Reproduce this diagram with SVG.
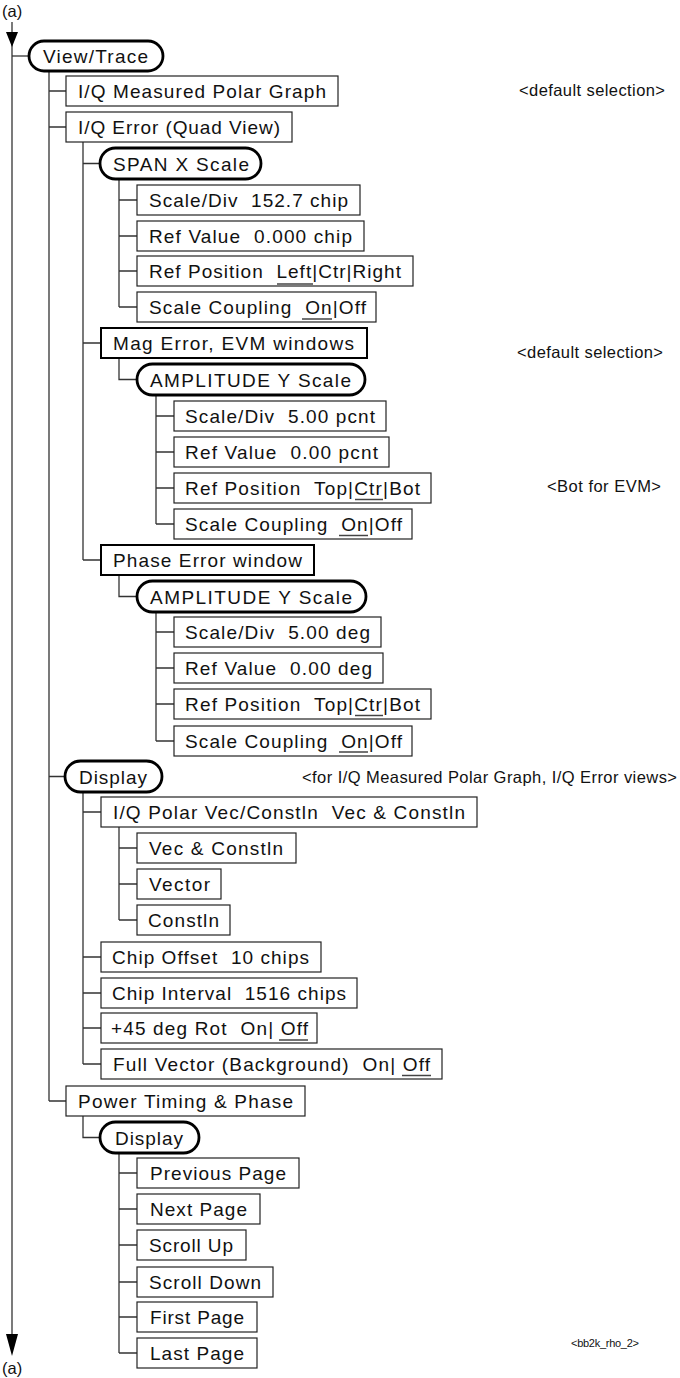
<svg xmlns="http://www.w3.org/2000/svg" width="680" height="1378" viewBox="0 0 680 1378">
<style>
.bg{fill:#fff}
.box{fill:#fff;stroke:#222;stroke-width:1.2}
.thick{stroke-width:2;stroke:#000}
.pill{fill:#fff;stroke:#000;stroke-width:2.8}
.lbl{font-family:"Liberation Sans",Arial,Helvetica,sans-serif;font-size:19px;fill:#111;white-space:pre}
.note{font-family:"Liberation Sans",Arial,Helvetica,sans-serif;font-size:16.5px;fill:#111;white-space:pre}
.small{font-size:11px}
.conn path{stroke:#333;stroke-width:1.3;fill:none}
.main{stroke:#000;stroke-width:1.5;fill:none}
.ul{stroke:#444;stroke-width:1.5}
</style>
<rect class="bg" x="0" y="0" width="680" height="1378"/>
<g id="connectors" class="conn">
<path class="main" d="M12,22 V1340"/>
<polygon points="6,32 18,32 12,47" fill="#000"/>
<polygon points="6,1334 18,1334 12,1356" fill="#000"/>
<path d="M12,56 H29"/>
<path d="M49,71 V1101 M49,91 H66 M49,127 H66 M49,776.5 H65 M49,1101 H66"/>
<path d="M83,142 V560 M83,163.5 H100 M83,343 H101 M83,560 H101"/>
<path d="M119,179 V307 M119,200 H137 M119,236 H137 M119,271 H137 M119,307 H137"/>
<path d="M119,358 V379.5 H137"/>
<path d="M156,395 V524 M156,416 H174 M156,452 H174 M156,488 H174 M156,524 H174"/>
<path d="M119,575 V596.5 H137"/>
<path d="M156,612 V741 M156,632 H174 M156,668 H174 M156,704 H174 M156,741 H174"/>
<path d="M83,792 V1064 M83,812 H101 M83,957 H101 M83,993 H101 M83,1028 H101 M83,1064 H101"/>
<path d="M119,827 V920 M119,848 H137 M119,884 H137 M119,920 H137"/>
<path d="M83,1116 V1137.5 H100"/>
<path d="M119,1153 V1353 M119,1173 H137 M119,1209 H137 M119,1245 H137 M119,1282 H137 M119,1317 H137 M119,1353 H137"/>
</g>
<text class="note" x="2" y="17">(a)</text>
<text class="note" x="2" y="1374">(a)</text>
<g id="n-viewtrace"><rect class="pill" x="29" y="41" width="134" height="30" rx="15"/><text class="lbl" x="43" y="63" textLength="105">View/Trace</text></g>
<g id="n-iqpolar"><rect class="box" x="66" y="76" width="272" height="30"/><text class="lbl" x="78" y="98" textLength="248">I/Q Measured Polar Graph</text></g>
<g id="n-iqerror"><rect class="box" x="66" y="112" width="226" height="30"/><text class="lbl" x="78" y="134" textLength="202">I/Q Error (Quad View)</text></g>
<g id="n-spanx"><rect class="pill" x="100" y="148" width="161" height="31" rx="15.5"/><text class="lbl" x="113" y="170.5" textLength="136">SPAN X Scale</text></g>
<g id="n-sd1"><rect class="box" x="137" y="185" width="223" height="30"/><text class="lbl" x="149" y="207" textLength="199">Scale/Div  152.7 chip</text></g>
<g id="n-rv1"><rect class="box" x="137" y="221" width="227" height="30"/><text class="lbl" x="149" y="243" textLength="203">Ref Value  0.000 chip</text></g>
<g id="n-rp1"><rect class="box" x="137" y="256" width="276" height="30"/><text class="lbl" x="149" y="278" textLength="252">Ref Position  Left|Ctr|Right</text><line class="ul" x1="277" y1="284" x2="313" y2="284"/></g>
<g id="n-sc1"><rect class="box" x="137" y="292" width="239" height="30"/><text class="lbl" x="149" y="314" textLength="217">Scale Coupling  On|Off</text><line class="ul" x1="302" y1="319" x2="332" y2="319"/></g>
<g id="n-mag"><rect class="box thick" x="101" y="328" width="266" height="30"/><text class="lbl" x="113" y="350" textLength="241">Mag Error, EVM windows</text></g>
<g id="n-amp1"><rect class="pill" x="137" y="364" width="228" height="31" rx="15.5"/><text class="lbl" x="150" y="386.5" textLength="201">AMPLITUDE Y Scale</text></g>
<g id="n-sd2"><rect class="box" x="174" y="401" width="212" height="30"/><text class="lbl" x="185" y="423" textLength="190">Scale/Div  5.00 pcnt</text></g>
<g id="n-rv2"><rect class="box" x="174" y="437" width="215" height="30"/><text class="lbl" x="185" y="459" textLength="193">Ref Value  0.00 pcnt</text></g>
<g id="n-rp2"><rect class="box" x="174" y="473" width="257" height="30"/><text class="lbl" x="185" y="495" textLength="235">Ref Position  Top|Ctr|Bot</text><line class="ul" x1="355" y1="499.5" x2="383" y2="499.5"/></g>
<g id="n-sc2"><rect class="box" x="174" y="509" width="238" height="30"/><text class="lbl" x="185" y="531" textLength="217">Scale Coupling  On|Off</text><line class="ul" x1="339" y1="535.5" x2="368" y2="535.5"/></g>
<g id="n-phase"><rect class="box thick" x="101" y="545" width="213" height="30"/><text class="lbl" x="113" y="567" textLength="189">Phase Error window</text></g>
<g id="n-amp2"><rect class="pill" x="137" y="581" width="229" height="31" rx="15.5"/><text class="lbl" x="150" y="603.5" textLength="202">AMPLITUDE Y Scale</text></g>
<g id="n-sd3"><rect class="box" x="174" y="617" width="207" height="30"/><text class="lbl" x="185" y="639" textLength="185">Scale/Div  5.00 deg</text></g>
<g id="n-rv3"><rect class="box" x="174" y="653" width="209" height="30"/><text class="lbl" x="185" y="675" textLength="187">Ref Value  0.00 deg</text></g>
<g id="n-rp3"><rect class="box" x="174" y="689" width="257" height="30"/><text class="lbl" x="185" y="711" textLength="235">Ref Position  Top|Ctr|Bot</text><line class="ul" x1="355" y1="715.5" x2="383" y2="715.5"/></g>
<g id="n-sc3"><rect class="box" x="174" y="726" width="238" height="30"/><text class="lbl" x="185" y="748" textLength="217">Scale Coupling  On|Off</text><line class="ul" x1="339" y1="752" x2="368" y2="752"/></g>
<g id="n-display"><rect class="pill" x="65" y="761" width="97" height="31" rx="15.5"/><text class="lbl" x="79" y="783.5" textLength="68">Display</text></g>
<g id="n-iqvec"><rect class="box" x="101" y="797" width="376" height="30"/><text class="lbl" x="113" y="819" textLength="352">I/Q Polar Vec/Constln  Vec &amp; Constln</text></g>
<g id="n-vecc"><rect class="box" x="137" y="833" width="159" height="30"/><text class="lbl" x="149" y="855" textLength="134">Vec &amp; Constln</text></g>
<g id="n-vector"><rect class="box" x="137" y="869" width="84" height="30"/><text class="lbl" x="149" y="891" textLength="61">Vector</text></g>
<g id="n-constln"><rect class="box" x="137" y="905" width="93" height="30"/><text class="lbl" x="148" y="927" textLength="71">Constln</text></g>
<g id="n-chipoff"><rect class="box" x="101" y="942" width="220" height="30"/><text class="lbl" x="112" y="964" textLength="197">Chip Offset  10 chips</text></g>
<g id="n-chipint"><rect class="box" x="101" y="978" width="256" height="30"/><text class="lbl" x="112" y="1000" textLength="234">Chip Interval  1516 chips</text></g>
<g id="n-rot"><rect class="box" x="101" y="1013" width="216" height="30"/><text class="lbl" x="111" y="1035" textLength="197">+45 deg Rot  On| Off</text><line class="ul" x1="279" y1="1040" x2="308" y2="1040"/></g>
<g id="n-fullvec"><rect class="box" x="101" y="1049" width="341" height="30"/><text class="lbl" x="113" y="1071" textLength="317">Full Vector (Background)  On| Off</text><line class="ul" x1="402" y1="1075.5" x2="431" y2="1075.5"/></g>
<g id="n-power"><rect class="box" x="66" y="1086" width="239" height="30"/><text class="lbl" x="78" y="1108" textLength="215">Power Timing &amp; Phase</text></g>
<g id="n-display2"><rect class="pill" x="100" y="1122" width="99" height="31" rx="15.5"/><text class="lbl" x="115" y="1144.5" textLength="68">Display</text></g>
<g id="n-prev"><rect class="box" x="137" y="1158" width="162" height="30"/><text class="lbl" x="150" y="1180" textLength="136">Previous Page</text></g>
<g id="n-next"><rect class="box" x="137" y="1194" width="123" height="30"/><text class="lbl" x="150" y="1216" textLength="97">Next Page</text></g>
<g id="n-sup"><rect class="box" x="137" y="1230" width="109" height="30"/><text class="lbl" x="149" y="1252" textLength="84">Scroll Up</text></g>
<g id="n-sdown"><rect class="box" x="137" y="1267" width="136" height="30"/><text class="lbl" x="149" y="1289" textLength="112">Scroll Down</text></g>
<g id="n-first"><rect class="box" x="137" y="1302" width="120" height="30"/><text class="lbl" x="150" y="1324" textLength="94">First Page</text></g>
<g id="n-last"><rect class="box" x="137" y="1338" width="120" height="30"/><text class="lbl" x="150" y="1360" textLength="94">Last Page</text></g>
<g id="notes">
<text class="note" x="519" y="96" textLength="146">&lt;default selection&gt;</text>
<text class="note" x="517" y="358" textLength="146">&lt;default selection&gt;</text>
<text class="note" x="547" y="492" textLength="114">&lt;Bot for EVM&gt;</text>
<text class="note" x="302" y="783" textLength="375">&lt;for I/Q Measured Polar Graph, I/Q Error views&gt;</text>
<text class="note small" x="571" y="1347" textLength="68">&lt;bb2k_rho_2&gt;</text>
</g>
</svg>
